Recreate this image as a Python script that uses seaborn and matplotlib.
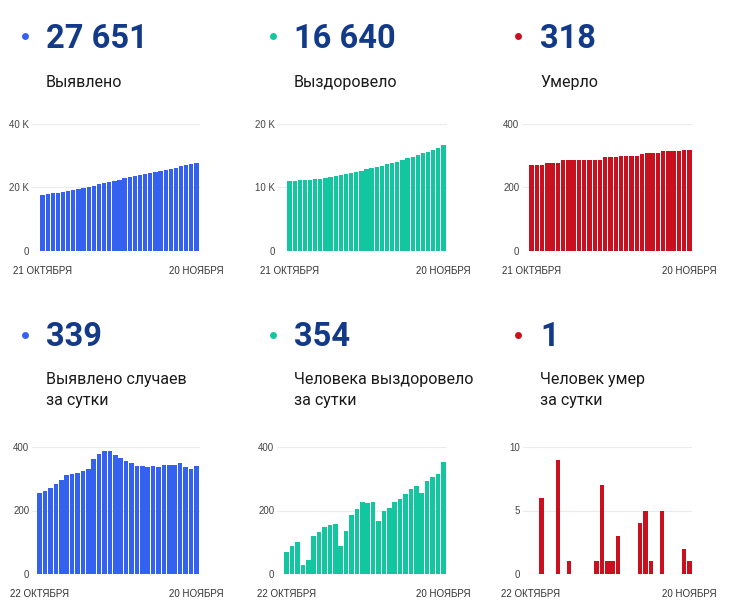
import numpy as np
import pandas as pd
import matplotlib
matplotlib.use("Agg")
import matplotlib.pyplot as plt
from matplotlib.lines import Line2D
import seaborn as sns

# ---------------- data ----------------
dates_top = [d.strftime("%d.%m") for d in pd.date_range("2020-10-21", "2020-11-20")]
dates_bot = [d.strftime("%d.%m") for d in pd.date_range("2020-10-22", "2020-11-20")]

cases_total = [17634, 17889, 18151, 18422, 18707, 19004, 19315, 19631, 19949, 20274,
               20606, 20969, 21346, 21732, 22119, 22495, 22861, 23218, 23567, 23908,
               24249, 24586, 24925, 25263, 25607, 25949, 26293, 26643, 26980, 27312, 27651]
recovered_total = [10953, 11023, 11110, 11212, 11240, 11283, 11402, 11535, 11682, 11835,
                   11994, 12081, 12216, 12402, 12608, 12836, 13060, 13286, 13454, 13651,
                   13860, 14088, 14323, 14575, 14842, 15119, 15373, 15667, 15971, 16286, 16640]
deaths_total = [271, 271, 271, 277, 277, 277, 286, 286, 287, 287, 287, 287, 287, 288, 295,
                296, 297, 300, 300, 300, 300, 304, 309, 310, 310, 315, 315, 315, 315, 317, 318]

cases_daily = [255, 262, 271, 285, 297, 311, 316, 318, 325, 332,
               363, 377, 386, 387, 376, 366, 357, 349, 341, 341,
               337, 339, 338, 344, 342, 344, 350, 337, 332, 339]
recovered_daily = [70, 87, 102, 28, 43, 119, 133, 147, 153, 159,
                   87, 135, 186, 206, 228, 224, 226, 168, 197, 209,
                   228, 235, 252, 267, 277, 254, 294, 304, 315, 354]
deaths_daily = [0, 0, 6, 0, 0, 9, 0, 1, 0, 0, 0, 0, 1, 7, 1,
                1, 3, 0, 0, 0, 4, 5, 1, 0, 5, 0, 0, 0, 2, 1]

headline_numbers = ["27 651", "16 640", "318", "339", "354", "1"]
headline_labels = ["Выявлено", "Выздоровело", "Умерло",
                   "Выявлено случаев\nза сутки", "Человека выздоровело\nза сутки",
                   "Человек умер\nза сутки"]
top_xticklabels = ["21 ОКТЯБРЯ", "20 НОЯБРЯ"]
bot_xticklabels = ["22 ОКТЯБРЯ", "20 НОЯБРЯ"]
top_yticks = [[0, 20000, 40000], [0, 10000, 20000], [0, 200, 400]]
top_yticklabels = [["0", "20 K", "40 K"], ["0", "10 K", "20 K"], ["0", "200", "400"]]
bot_yticks = [[0, 200, 400], [0, 200, 400], [0, 5, 10]]
bot_yticklabels = [["0", "200", "400"], ["0", "200", "400"], ["0", "5", "10"]]

# ---------------- style ----------------
sns.set_style("white")
plt.rcParams["font.family"] = ["Roboto", "DejaVu Sans"]
TICK_FONT = ["Liberation Sans", "DejaVu Sans"]

BLUE = "#3461ef"
TEAL = "#12c6a0"
RED = "#c8101e"
NAVY = "#123a88"
colors = [BLUE, TEAL, RED]

W, H = 736, 604
fig = plt.figure(figsize=(W / 100, H / 100), dpi=100)
fig.patch.set_facecolor("white")


def fx(x):
    return x / W


def fy(y):
    return 1 - y / H


# layout: (grid_left, grid_right, bars_left, bars_right) in px
cols_top = [(32, 200, 40, 199), (278, 447, 287, 446), (522, 692, 529, 692)]
cols_bot = [(32, 200, 37, 199), (277, 447, 284, 446), (523, 692, 528, 692)]


def panel(gl, gr, bl, br, ytop, ybot, dates, values, color, yticks, yticklabels, xtl):
    n = len(values)
    ax = fig.add_axes([fx(gl), fy(ybot), (gr - gl) / W, (ybot - ytop) / H])
    sns.barplot(x=dates, y=values, color=color, saturation=1, width=0.84,
                ax=ax, zorder=3, order=dates, linewidth=0, edgecolor="none")
    pitch = (br - bl) / n
    left = -0.5 - (bl - gl) / pitch
    right = n - 0.5 + (gr - br) / pitch
    ax.set_xlim(left, right)
    ax.set_ylim(0, yticks[-1])
    ax.set_yticks(yticks)
    ax.set_yticklabels(yticklabels, fontsize=7, color="#444444", family=TICK_FONT)
    ax.set_xticks([0, n - 1])
    ax.set_xticklabels(xtl, fontsize=7, color="#333333", family=TICK_FONT)
    ax.tick_params(axis="both", length=0)
    ax.tick_params(axis="y", pad=2)
    ax.tick_params(axis="x", pad=11)
    ax.set_xlabel("")
    ax.set_ylabel("")
    for s in ax.spines.values():
        s.set_visible(False)
    ax.yaxis.grid(True, color="#ebebeb", linewidth=0.8, zorder=0)
    ax.xaxis.grid(False)
    ax.set_axisbelow(True)
    return ax


tops = [cases_total, recovered_total, deaths_total]
bots = [cases_daily, recovered_daily, deaths_daily]
for i in range(3):
    gl, gr, bl, br = cols_top[i]
    panel(gl, gr, bl, br, 124, 251, dates_top, tops[i], colors[i],
          top_yticks[i], top_yticklabels[i], top_xticklabels)
    gl, gr, bl, br = cols_bot[i]
    panel(gl, gr, bl, br, 447, 574, dates_bot, bots[i], colors[i],
          bot_yticks[i], bot_yticklabels[i], bot_xticklabels)

# ---------------- headlines ----------------
dot_x = [25, 273, 518]
text_x = [46, 294, 540]
for r in range(2):
    dot_y = [36, 335][r]
    num_base = [48, 346][r]
    lab_base = [87, 384][r]
    for c in range(3):
        k = r * 3 + c
        fig.add_artist(Line2D([fx(dot_x[c])], [fy(dot_y)], marker="o", markersize=5,
                              color=colors[c], markeredgewidth=0,
                              transform=fig.transFigure))
        fig.text(fx(text_x[c]), fy(num_base), headline_numbers[k], fontsize=23.5,
                 fontweight="bold", color=NAVY, ha="left", va="baseline")
        lines = headline_labels[k].split("\n")
        for j, line in enumerate(lines):
            fig.text(fx(text_x[c]), fy(lab_base + 21 * j), line, fontsize=11.5,
                     color="#1a1a1a", ha="left", va="baseline")

fig.savefig("out.png", dpi=100, facecolor="white")
